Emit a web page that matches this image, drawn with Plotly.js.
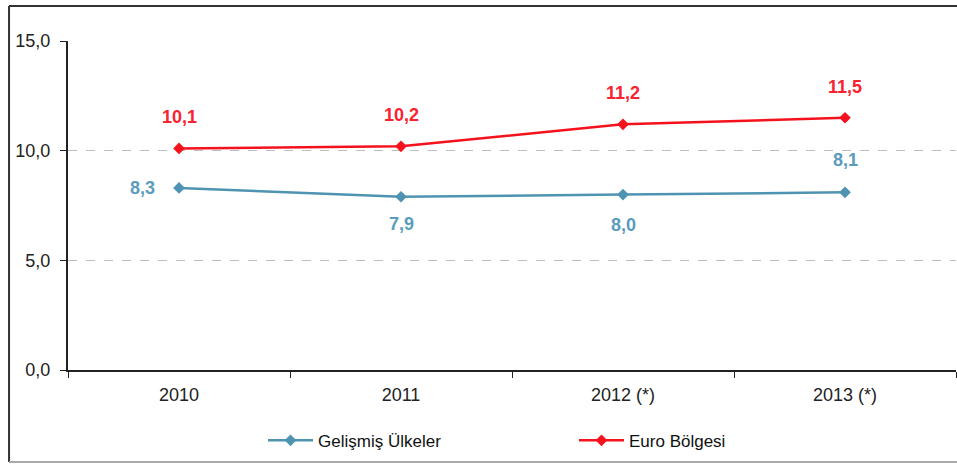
<!DOCTYPE html>
<html><head><meta charset="utf-8">
<script src="https://cdn.plot.ly/plotly-3.0.1.min.js"></script>
<style>html,body{margin:0;padding:0;background:#fff;overflow:hidden;}#chart{width:957px;height:464px;}</style>
</head><body><div id="chart"></div>
<script>
var years = ['2010', '2011', '2012 (*)', '2013 (*)'];
var gelismis = [8.3, 7.9, 8.0, 8.1];
var euro = [10.1, 10.2, 11.2, 11.5];
var seriesNames = ['Gelişmiş Ülkeler', 'Euro Bölgesi'];
var blueColor = '#4f93b2', redColor = '#f5121c';
var fmt = function(v){ return v.toFixed(1).replace('.', ','); };
var idx = years.map(function(_, i){ return i; });
var bounds = [-0.5].concat(idx.map(function(i){ return i + 0.5; }));
var FONT = 'Liberation Sans, Arial, sans-serif';

var traces = [
  {x: idx, y: gelismis, name: seriesNames[0], type: 'scatter', mode: 'lines+markers',
   line: {color: blueColor, width: 2.5}, marker: {symbol: 'diamond', size: 9, color: blueColor}},
  {x: idx, y: euro, name: seriesNames[1], type: 'scatter', mode: 'lines+markers',
   line: {color: redColor, width: 2.5}, marker: {symbol: 'diamond', size: 9, color: redColor}}
];

var blueShift = [[-37, 0], [0, -27], [0, -30], [0, 32]];
var annotations = [];
idx.forEach(function(i){
  annotations.push({x: i, y: euro[i], text: fmt(euro[i]), showarrow: false, yshift: 31,
    font: {family: FONT, size: 18, color: '#fa2230', weight: 'bold'}});
  annotations.push({x: i, y: gelismis[i], text: fmt(gelismis[i]), showarrow: false,
    xshift: blueShift[i][0], yshift: blueShift[i][1],
    font: {family: FONT, size: 18, color: '#5a9cbd', weight: 'bold'}});
});

var layout = {
  width: 957, height: 464,
  margin: {l: 68, r: 1, t: 41, b: 94, autoexpand: false},
  paper_bgcolor: '#fff', plot_bgcolor: '#fff',
  font: {family: FONT, size: 18, color: '#222'},
  separators: ',.',
  showlegend: true,
  legend: {orientation: 'h', x: 0.2196, xanchor: 'left', y: -0.215, yanchor: 'middle',
    itemwidth: 45, entrywidth: 251, entrywidthmode: 'pixels', font: {size: 17, color: '#111'}},
  xaxis: {range: [-0.5, 3.5], tickmode: 'array', tickvals: idx, ticktext: years, ticks: '',
    ticklabelstandoff: 7, automargin: false,
    minor: {tickmode: 'array', tickvals: bounds, ticks: 'outside', ticklen: 6, tickcolor: '#222', showgrid: false},
    showline: true, linecolor: '#222', linewidth: 2, showgrid: false, zeroline: false,
    tickfont: {size: 18, color: '#222'}, fixedrange: true},
  yaxis: {range: [0, 15], tickvals: [0, 5, 10, 15], tickformat: '.1f', ticks: 'outside', ticklen: 6,
    ticklabelstandoff: 6, automargin: false,
    tickcolor: '#222', showline: true, linecolor: '#222', linewidth: 2,
    showgrid: true, gridcolor: '#bdbdbd', griddash: 'dash', gridwidth: 1, zeroline: false,
    tickfont: {size: 18, color: '#222'}, fixedrange: true},
  annotations: annotations,
  shapes: [
    {type: 'line', xref: 'paper', yref: 'paper', x0: -0.0664, x1: 1.01, y0: 1.1064, y1: 1.1064, line: {color: '#333', width: 2}},
    {type: 'line', xref: 'paper', yref: 'paper', x0: -0.0664, x1: -0.0664, y0: -0.2796, y1: 1.1064, line: {color: '#333', width: 2}},
    {type: 'line', xref: 'paper', yref: 'paper', x0: -0.0664, x1: 1.01, y0: -0.2796, y1: -0.2796, line: {color: '#aaa', width: 2}}
  ]
};
Plotly.newPlot('chart', traces, layout, {displayModeBar: false, staticPlot: true});
</script></body></html>
